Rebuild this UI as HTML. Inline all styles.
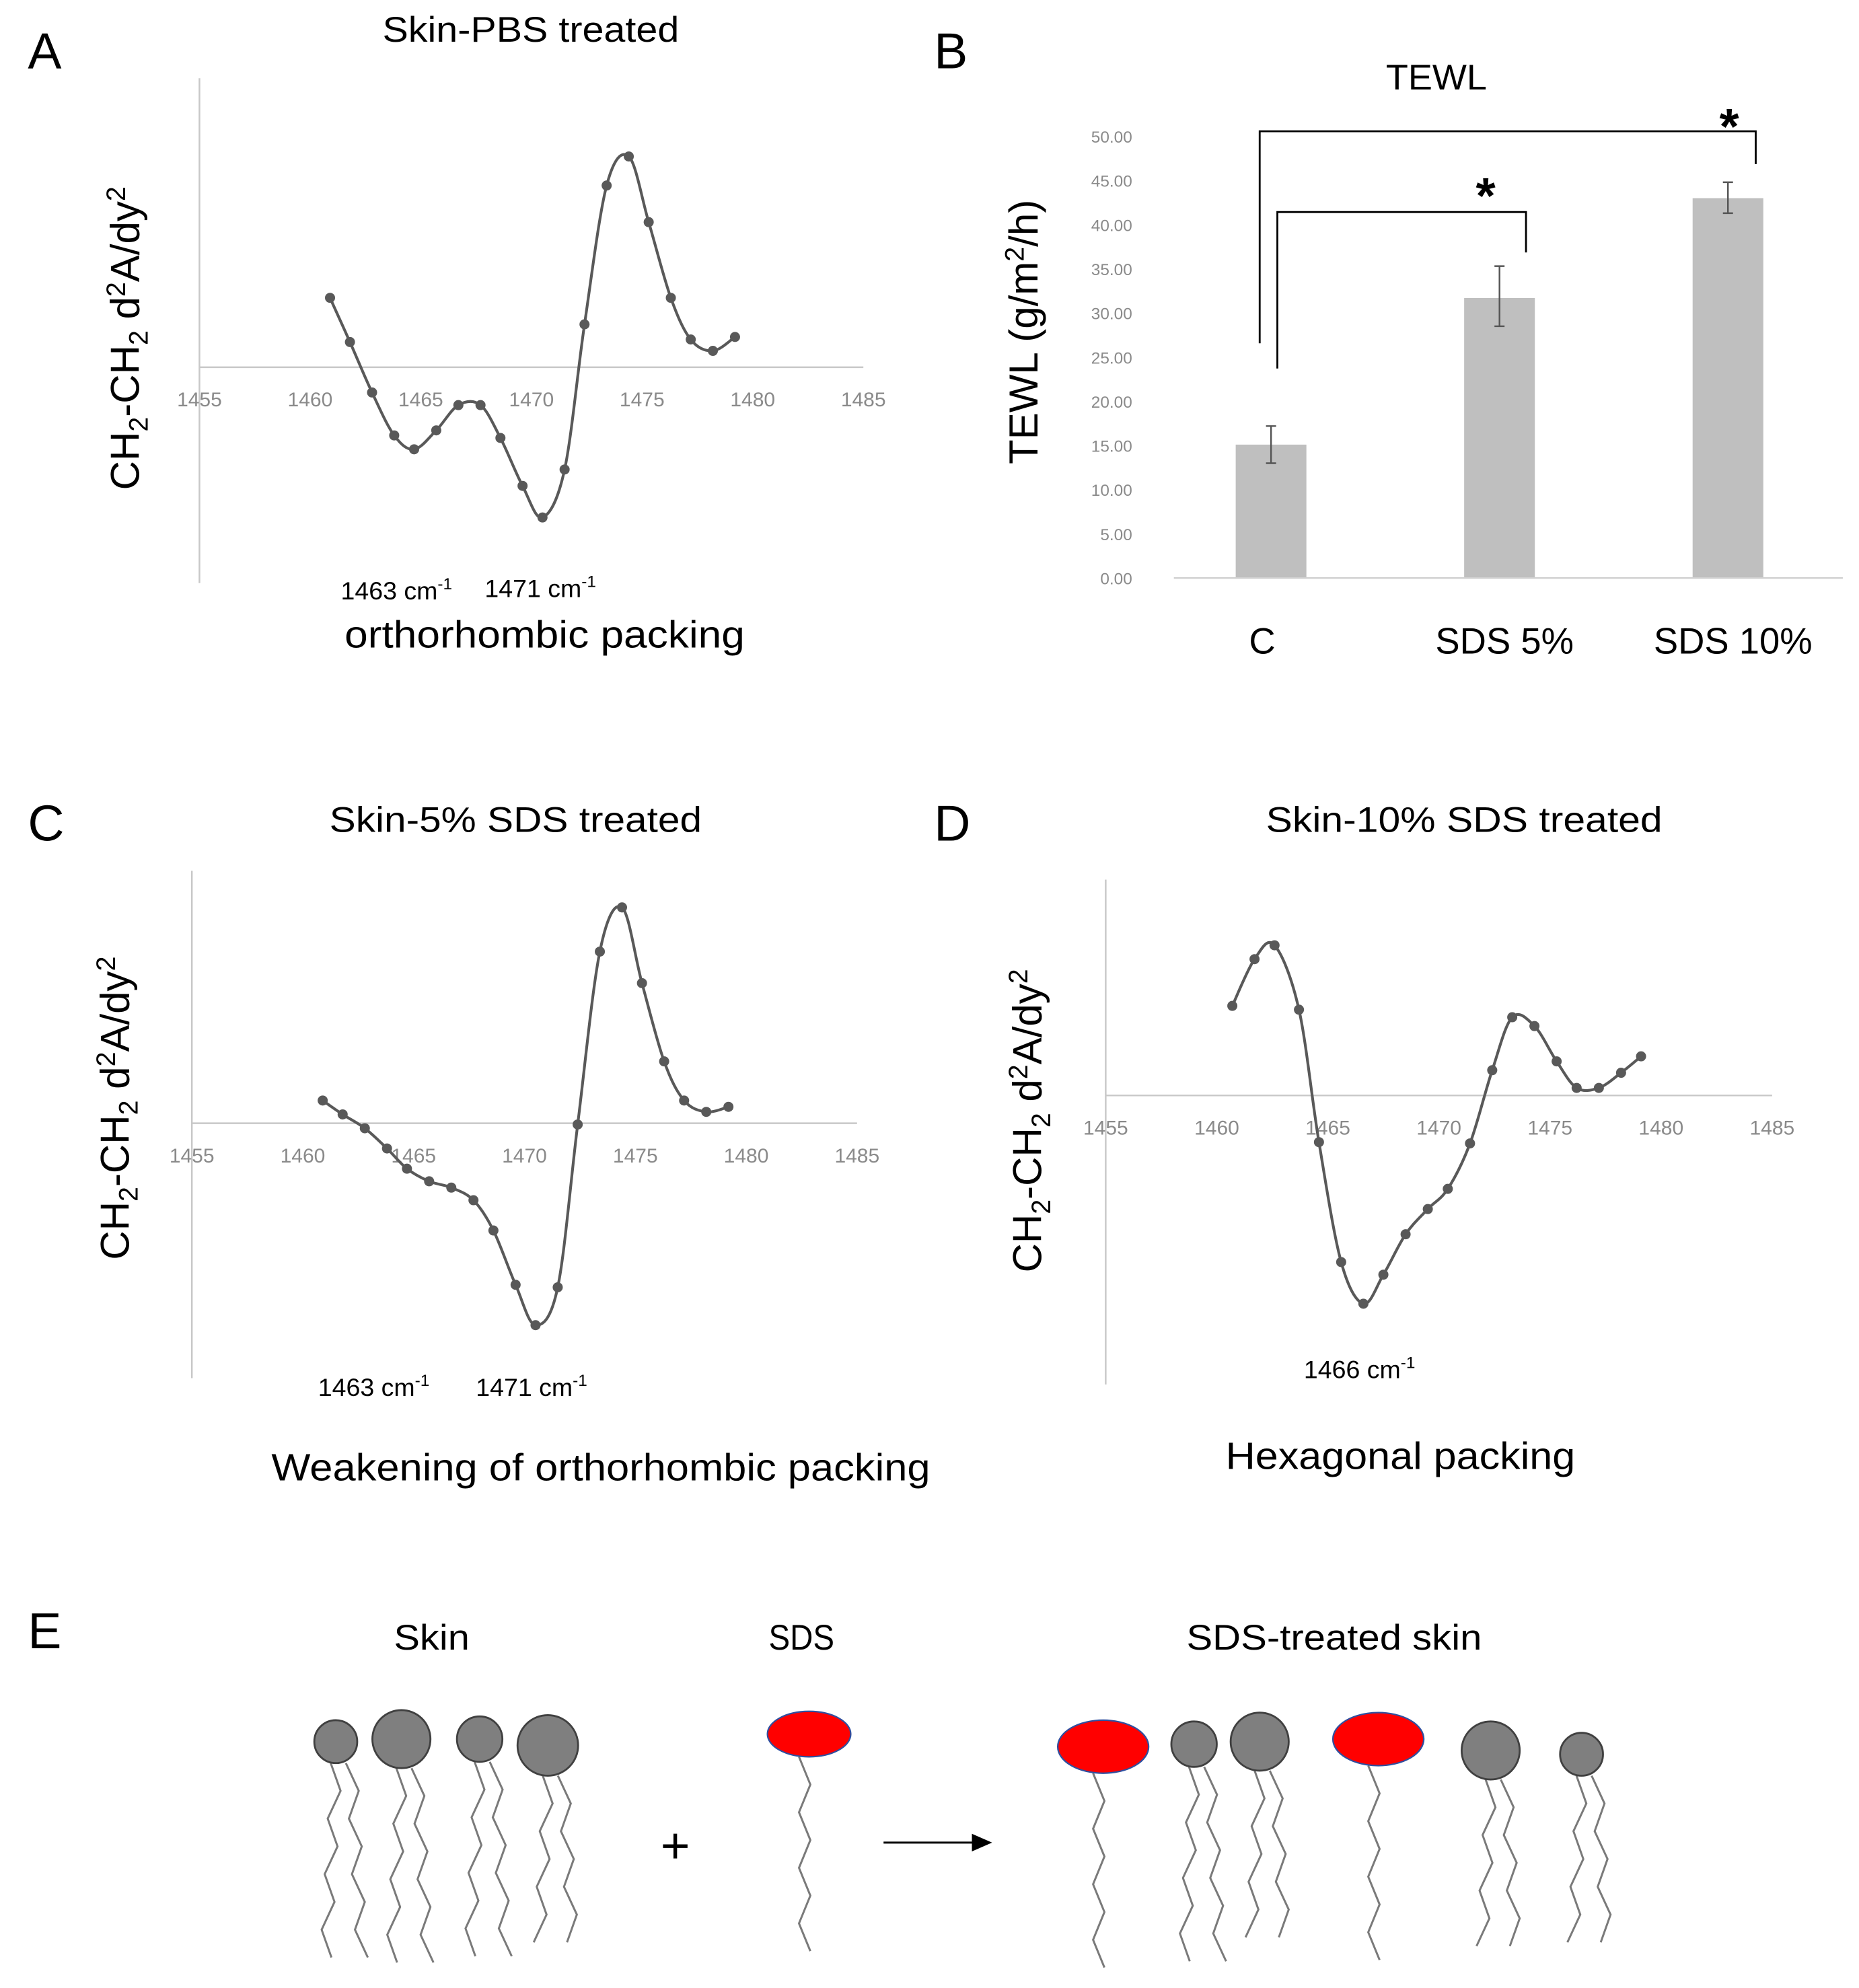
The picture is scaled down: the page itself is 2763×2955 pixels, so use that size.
<!DOCTYPE html>
<html><head><meta charset="utf-8"><style>
html,body{margin:0;padding:0;background:#fff}
svg{display:block}
text{font-family:"Liberation Sans",sans-serif}
</style></head><body>
<svg id="fig" width="2763" height="2955" viewBox="0 0 1472.8 1575.2" xmlns="http://www.w3.org/2000/svg">
<g id="panelA">
<text x="22" y="54" font-size="40">A</text>
<text x="303" y="33" font-size="28" textLength="235" lengthAdjust="spacingAndGlyphs">Skin-PBS treated</text>
<text transform="translate(110,268) rotate(-90)" font-size="32" text-anchor="middle">CH<tspan font-size="21" dy="7">2</tspan><tspan dy="-7">-CH</tspan><tspan font-size="21" dy="7">2</tspan><tspan dy="-7"> d</tspan><tspan font-size="21" dy="-11">2</tspan><tspan dy="11">A/dy</tspan><tspan font-size="21" dy="-11">2</tspan></text>
<text x="270" y="475" font-size="20">1463 cm<tspan font-size="13" dy="-8">-1</tspan></text>
<text x="384" y="473" font-size="20">1471 cm<tspan font-size="13" dy="-8">-1</tspan></text>
<text x="273" y="513" font-size="30" textLength="317" lengthAdjust="spacingAndGlyphs">orthorhombic packing</text>
</g>
<g id="panelB">
<text x="740" y="54" font-size="40">B</text>
<text x="1098" y="71" font-size="28" textLength="80" lengthAdjust="spacingAndGlyphs">TEWL</text>
<text transform="translate(822,263) rotate(-90)" font-size="32" text-anchor="middle">TEWL (g/m<tspan font-size="21" dy="-11">2</tspan><tspan dy="11">/h)</tspan></text>
</g>
<g id="panelC">
<text x="22" y="666" font-size="40">C</text>
<text x="261" y="659" font-size="28" textLength="295" lengthAdjust="spacingAndGlyphs">Skin-5% SDS  treated</text>
<text transform="translate(102,878) rotate(-90)" font-size="32" text-anchor="middle">CH<tspan font-size="21" dy="7">2</tspan><tspan dy="-7">-CH</tspan><tspan font-size="21" dy="7">2</tspan><tspan dy="-7"> d</tspan><tspan font-size="21" dy="-11">2</tspan><tspan dy="11">A/dy</tspan><tspan font-size="21" dy="-11">2</tspan></text>
<text x="252" y="1106" font-size="20">1463 cm<tspan font-size="13" dy="-8">-1</tspan></text>
<text x="377" y="1106" font-size="20">1471 cm<tspan font-size="13" dy="-8">-1</tspan></text>
<text x="215" y="1173" font-size="30" textLength="522" lengthAdjust="spacingAndGlyphs">Weakening of orthorhombic packing</text>
</g>
<g id="panelD">
<text x="740" y="666" font-size="40">D</text>
<text x="1003" y="659" font-size="28" textLength="314" lengthAdjust="spacingAndGlyphs">Skin-10% SDS  treated</text>
<text transform="translate(825,888) rotate(-90)" font-size="32" text-anchor="middle">CH<tspan font-size="21" dy="7">2</tspan><tspan dy="-7">-CH</tspan><tspan font-size="21" dy="7">2</tspan><tspan dy="-7"> d</tspan><tspan font-size="21" dy="-11">2</tspan><tspan dy="11">A/dy</tspan><tspan font-size="21" dy="-11">2</tspan></text>
<text x="1033" y="1092" font-size="20">1466 cm<tspan font-size="13" dy="-8">-1</tspan></text>
<text x="971" y="1164" font-size="30" textLength="277" lengthAdjust="spacingAndGlyphs">Hexagonal  packing</text>
</g>
<g id="panelE">
<text x="22" y="1306" font-size="40">E</text>
<text x="312" y="1307" font-size="28" textLength="60" lengthAdjust="spacingAndGlyphs">Skin</text>
<text x="609" y="1307" font-size="28" textLength="52" lengthAdjust="spacingAndGlyphs">SDS</text>
<text x="940" y="1307" font-size="28" textLength="234" lengthAdjust="spacingAndGlyphs">SDS-treated skin</text>
<text x="535" y="1476" font-size="40" text-anchor="middle">+</text>
<line x1="700" y1="1460" x2="772" y2="1460" stroke="#000" stroke-width="1.6"/>
<polygon points="786,1460 770,1453 770,1467" fill="#000"/>
</g>
</svg>
<script>
// ---- spectra data ----
const wavenumbers = [1460.9,1461.8,1462.8,1463.8,1464.7,1465.7,1466.7,1467.7,1468.6,1469.6,1470.5,1471.5,1472.4,1473.4,1474.4,1475.3,1476.3,1477.2,1478.2,1479.2];
const valuesA = [5.5,2.0,-2.0,-5.4,-6.5,-5.0,-3.0,-3.0,-5.6,-9.4,-11.9,-8.1,3.4,14.4,16.7,11.5,5.5,2.2,1.3,2.4];
const valuesC = [1.8,0.7,-0.4,-2.0,-3.6,-4.6,-5.1,-6.1,-8.5,-12.8,-16.0,-13.0,-0.1,13.6,17.1,11.1,4.9,1.8,0.9,1.3];
const wavenumbersD = [1460.7,1461.7,1462.6,1463.7,1464.6,1465.6,1466.6,1467.5,1468.5,1469.5,1470.4,1471.4,1472.4,1473.3,1474.3,1475.3,1476.2,1477.2,1478.2,1479.1];
const valuesD = [7.1,10.8,11.9,6.8,-3.7,-13.2,-16.5,-14.2,-11.0,-9.0,-7.4,-3.8,2.0,6.2,5.5,2.7,0.6,0.6,1.8,3.1];
const xTickLabels = ["1455","1460","1465","1470","1475","1480","1485"];
const xTickValues = [1455,1460,1465,1470,1475,1480,1485];
// ---- TEWL data ----
const categories = ["C","SDS 5%","SDS 10%"];
const tewlMeans = [15.1,31.7,43.0];
const tewlErrLow = [13.0,28.5,41.3];
const tewlErrHigh = [17.2,35.3,44.8];
const yTickValues = [0,5,10,15,20,25,30,35,40,45,50];
const yTickLabels = ["0.00","5.00","10.00","15.00","20.00","25.00","30.00","35.00","40.00","45.00","50.00"];

const NS = "http://www.w3.org/2000/svg";
function mk(tag, attrs, parent){const e=document.createElementNS(NS,tag);for(const k in attrs)e.setAttribute(k,attrs[k]);parent.appendChild(e);return e;}

function spectrum(g, xs, ys, cfg, key){
  const sx = v => cfg.x0 + (v-1455)/30*(cfg.x1-cfg.x0);
  const sy = v => cfg.zeroY - (v/cfg.yMax)*(cfg.zeroY-cfg.top);
  const ya = mk('line',{x1:cfg.x0,y1:cfg.top,x2:cfg.x0,y2:cfg.bottom,stroke:'#c8c8c8','stroke-width':1.3},g);
  
  
  const xa = mk('line',{x1:cfg.x0,y1:sy(0),x2:cfg.x1,y2:sy(0),stroke:'#c8c8c8','stroke-width':1.3},g);
  
  
  xTickValues.forEach((v,i)=>{
    const t = mk('text',{x:sx(v),y:sy(0)+31,'font-size':16,'text-anchor':'middle',fill:'#8a8a8a'},g);
    t.textContent = xTickLabels[i];
    
    
  });
  const pts = xs.map((x,i)=>[sx(x),sy(ys[i])]);
  let d = 'M'+pts[0][0]+','+pts[0][1];
  for(let i=0;i<pts.length-1;i++){
    const p0=pts[Math.max(0,i-1)],p1=pts[i],p2=pts[i+1],p3=pts[Math.min(pts.length-1,i+2)];
    const c1=[p1[0]+(p2[0]-p0[0])/6,p1[1]+(p2[1]-p0[1])/6];
    const c2=[p2[0]-(p3[0]-p1[0])/6,p2[1]-(p3[1]-p1[1])/6];
    d+=' C'+c1[0]+','+c1[1]+' '+c2[0]+','+c2[1]+' '+p2[0]+','+p2[1];
  }
  const path = mk('path',{d:d,fill:'none',stroke:'#595959','stroke-width':2.2},g);
  
  
  pts.forEach(p=>{
    const c = mk('circle',{cx:p[0],cy:p[1],r:4,fill:'#595959'},g);
    
    
  });
}
spectrum(document.getElementById('panelA'), wavenumbers, valuesA, {x0:158,x1:684,top:62,bottom:462,zeroY:291,yMax:22.9}, 'a');
spectrum(document.getElementById('panelC'), wavenumbers, valuesC, {x0:152,x1:679,top:690,bottom:1092,zeroY:890,yMax:20}, 'c');
spectrum(document.getElementById('panelD'), wavenumbersD, valuesD, {x0:876,x1:1404,top:697,bottom:1097,zeroY:868,yMax:17.1}, 'd');

// TEWL bar chart
(function(){
  const g = document.getElementById('panelB');
  const sy = v => 458 - v*7;
  const centers = [1007,1188,1369];
  yTickValues.forEach((v,i)=>{
    const t = mk('text',{x:897,y:sy(v)+5,'font-size':13,'text-anchor':'end',fill:'#8a8a8a'},g);
    t.textContent = yTickLabels[i];
    
    
  });
  categories.forEach((c,i)=>{
    const b = mk('rect',{x:centers[i]-28,y:sy(tewlMeans[i]),width:56,height:sy(0)-sy(tewlMeans[i]),fill:'#bfbfbf'},g);
    
    
    const e = mk('path',{d:'M'+centers[i]+','+sy(tewlErrLow[i])+'V'+sy(tewlErrHigh[i])+'M'+(centers[i]-4)+','+sy(tewlErrLow[i])+'h8M'+(centers[i]-4)+','+sy(tewlErrHigh[i])+'h8',stroke:'#555','stroke-width':1.3,fill:'none'},g);
    
    
    const t = mk('text',{x:centers[i]+ (i===0?-7:4),y:518,'font-size':29,'text-anchor':'middle'},g);
    t.textContent = c;
    
    
  });
  const ax = mk('line',{x1:930,y1:sy(0),x2:1460,y2:sy(0),stroke:'#d0d0d0','stroke-width':1.3},g);
  
  
  const br1 = mk('path',{d:'M998,272V104H1391V130',fill:'none',stroke:'#000','stroke-width':1.5},g);
  
  
  const br2 = mk('path',{d:'M1012,292V168H1209V200',fill:'none',stroke:'#000','stroke-width':1.5},g);
  
  
  [[1370,114],[1177,169]].forEach(p=>{
    const s = mk('text',{x:p[0],y:p[1],'font-size':40,'text-anchor':'middle','font-weight':'bold'},g);
    s.textContent='*';
    
    
  });
})();

// lipid schematic
(function(){
  const g = document.getElementById('panelE');
  function tail(x,y,len,dir){
    let d='M'+x+','+y; let cx=x;
    const n=Math.round(len/22);
    for(let i=1;i<=n;i++){cx += (i%2? 9:-9) + dir*1.2; d+=' L'+cx+','+(y+i*22);}
    const p = mk('path',{d:d,fill:'none',stroke:'#7a7a7a','stroke-width':1.6},g);
    
    
  }
  function lipid(x,y,r,twoTails){
    if(twoTails){tail(x-4,y+r,1545-y-r,-1);tail(x+8,y+r,1545-y-r,1);}
    const c = mk('circle',{cx:x,cy:y,r:r,fill:'#7f7f7f',stroke:'#404040','stroke-width':1.5},g);
    
    
  }
  function sds(x,y,rx,ry){
    tail(x-8,y+ry,150,0);
    const e = mk('ellipse',{cx:x,cy:y,rx:rx,ry:ry,fill:'#ff0000',stroke:'#2f4f9f','stroke-width':1.2},g);
    
    
  }
  lipid(266,1380,17,true);lipid(318,1378,23,true);lipid(380,1378,18,true);lipid(434,1383,24,true);
  sds(641,1374,33,18);
  sds(874,1384,36,21);lipid(946,1382,18,true);lipid(998,1380,23,true);sds(1092,1378,36,21);lipid(1181,1387,23,true);lipid(1253,1390,17,true);
})();
</script>
</body></html>
